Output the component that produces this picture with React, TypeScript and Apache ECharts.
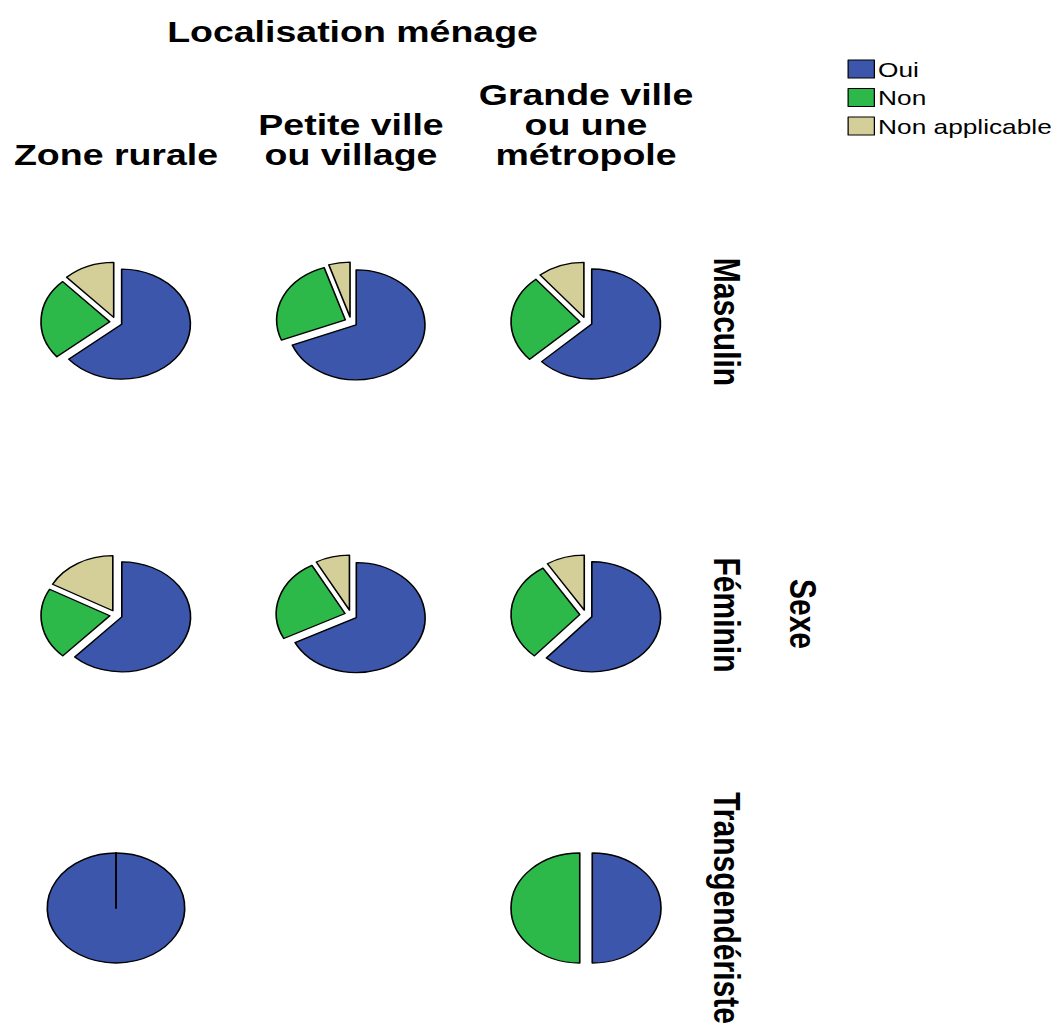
import React, { useEffect, useRef } from "react";
import * as echarts from "echarts";

// ---------- data ----------
const categories = ["Oui", "Non", "Non applicable"];
const columnTitle = "Localisation ménage";
const columnLabels = ["Zone rurale", "Petite ville\nou village", "Grande ville\nou une\nmétropole"];
const rowTitle = "Sexe";
const rowLabels = ["Masculin", "Féminin", "Transgendériste"];

// values (%) per column: [Oui, Non, Non applicable]
const masculin = [
  [64, 24, 12],
  [69, 26, 5],
  [63, 26, 11],
];
const feminin = [
  [62, 21, 17],
  [67.5, 24.5, 8],
  [61.5, 29.5, 9],
];
const transgenderiste = [
  [100, 0, 0],
  null,
  [50, 50, 0],
];
const rowValues = [masculin, feminin, transgenderiste];

// ---------- style / layout ----------
const colors = ["#3c56ab", "#2db84a", "#d4cf99"];
const STRETCH = 1.25;
const W = 847;
const H = 1029;
const colX = [92.8, 280.8, 468.8];
const rowY = [322, 615, 908];
const RADIUS = 55;
const FONT = '"Liberation Sans", Arial, sans-serif';

function buildOption() {
  const series: any[] = [];
  rowValues.forEach((row, ri) => {
    row.forEach((vals, ci) => {
      if (!vals) return;
      const total = vals.reduce((a, b) => a + b, 0);
      const nonZero = vals.filter((v) => v > 0).length;
      series.push({
        type: "pie",
        name: `${rowLabels[ri]} - ${columnLabels[ci].replace(/\n/g, " ")}`,
        center: [colX[ci], rowY[ri]],
        radius: RADIUS,
        startAngle: 90,
        clockwise: true,
        selectedMode: "multiple",
        selectedOffset: 5,
        silent: true,
        label: { show: false },
        labelLine: { show: false },
        emphasis: { disabled: true, scale: false },
        data: vals.map((v, k) => {
          const style = {
            color: colors[k],
            borderColor: "#000",
            borderWidth: v === 0 && nonZero > 1 ? 0 : 1.3,
          };
          return {
            name: categories[k],
            value: v,
            selected: v > 0 && v < total,
            itemStyle: style,
            select: { itemStyle: style },
          };
        }),
      });
    });
  });

  const boldText = (text: string, x: number, y: number, rotate = false) => ({
    type: "text",
    x,
    y,
    rotation: rotate ? -Math.PI / 2 : 0,
    silent: true,
    style: {
      text,
      fontFamily: FONT,
      fontWeight: "bold",
      fontSize: 30,
      lineHeight: 30,
      fill: "#000",
      align: "center",
      verticalAlign: "middle",
    },
  });

  const graphic: any[] = [];
  graphic.push(boldText(columnTitle, 282, 31.5));
  columnLabels.forEach((c, i) => {
    const n = c.split("\n").length;
    graphic.push(boldText(c, colX[i], 154 - (n - 1) * 15));
  });
  rowLabels.forEach((r, i) => {
    graphic.push(boldText(r, 582, rowY[i], true));
  });
  graphic.push(boldText(rowTitle, 643, 614, true));

  return {
    animation: false,
    color: colors,
    legend: {
      orient: "vertical",
      left: 678,
      top: 58.5,
      padding: 0,
      itemWidth: 21,
      itemHeight: 18,
      itemGap: 7.5,
      icon: "rect",
      selectedMode: false,
      data: categories,
      itemStyle: { borderColor: "#000", borderWidth: 1 },
      textStyle: {
        fontFamily: FONT,
        fontSize: 21,
        color: "#000",
        padding: [0, 0, 0, -2],
      },
    },
    graphic,
    series,
  };
}

export default function App() {
  const ref = useRef<HTMLDivElement>(null);
  useEffect(() => {
    if (!ref.current) return;
    document.body.style.overflow = "hidden";
    const chart = echarts.init(ref.current, undefined, { renderer: "svg" });
    chart.setOption(buildOption() as any);
    return () => chart.dispose();
  }, []);
  return (
    <div
      ref={ref}
      style={{
        position: "absolute",
        left: 0,
        top: 0,
        width: W,
        height: H,
        background: "#fff",
        transform: `scaleX(${STRETCH})`,
        transformOrigin: "0 0",
      }}
    />
  );
}
